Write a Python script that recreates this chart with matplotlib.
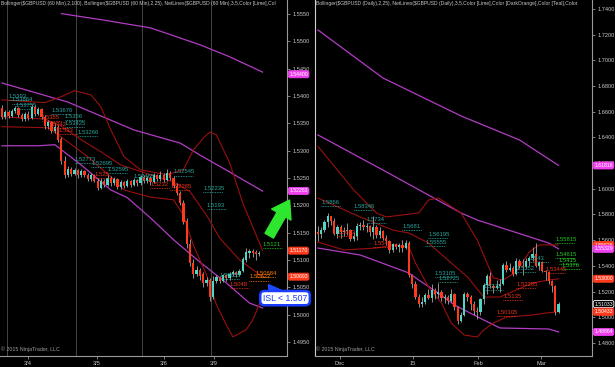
import matplotlib
matplotlib.use("Agg")
import matplotlib.pyplot as plt
import numpy as np

# ---------------- left panel: GBPUSD 60 min ----------------
l_open = [1.5378, 1.5362, 1.5370, 1.5364, 1.5372, 1.5378, 1.5366, 1.5358, 1.5368, 1.5360,
          1.5380, 1.5368, 1.5376, 1.5362, 1.5345, 1.5352, 1.5336, 1.5344, 1.5322, 1.5282,
          1.5256, 1.5266, 1.5258, 1.5264, 1.5255, 1.5262, 1.5256, 1.5248, 1.5256, 1.5245,
          1.5232, 1.5245, 1.5238, 1.5250, 1.5240, 1.5248, 1.5234, 1.5242, 1.5236, 1.5244,
          1.5237, 1.5246, 1.5240, 1.5252, 1.5244, 1.5250, 1.5242, 1.5255, 1.5248, 1.5256,
          1.5246, 1.5260, 1.5250, 1.5236, 1.5222, 1.5205, 1.5172, 1.5130, 1.5095, 1.5075,
          1.5082, 1.5074, 1.5058, 1.5064, 1.5032, 1.5062, 1.5068, 1.5062, 1.5072, 1.5066,
          1.5075, 1.5078, 1.5072, 1.5080, 1.5100, 1.5112, 1.5117, 1.5114, 1.5110]
l_close = [1.5362, 1.5370, 1.5364, 1.5372, 1.5378, 1.5366, 1.5358, 1.5368, 1.5360, 1.5380,
           1.5368, 1.5376, 1.5362, 1.5345, 1.5352, 1.5336, 1.5344, 1.5320, 1.5282, 1.5256,
           1.5266, 1.5258, 1.5264, 1.5255, 1.5262, 1.5256, 1.5248, 1.5256, 1.5245, 1.5232,
           1.5245, 1.5238, 1.5250, 1.5240, 1.5248, 1.5234, 1.5242, 1.5236, 1.5244, 1.5237,
           1.5246, 1.5240, 1.5252, 1.5244, 1.5250, 1.5242, 1.5255, 1.5248, 1.5256, 1.5246,
           1.5260, 1.5250, 1.5236, 1.5222, 1.5205, 1.5170, 1.5130, 1.5095, 1.5075, 1.5082,
           1.5070, 1.5058, 1.5064, 1.5032, 1.5062, 1.5068, 1.5062, 1.5072, 1.5066, 1.5075,
           1.5078, 1.5072, 1.5080, 1.5102, 1.5115, 1.5117, 1.5112, 1.5110, 1.5113]
l_high = [1.5384, 1.5374, 1.5375, 1.5377, 1.5382, 1.5380, 1.5369, 1.5371, 1.5372, 1.5386,
          1.5383, 1.5380, 1.5379, 1.5366, 1.5356, 1.5355, 1.5350, 1.5347, 1.5325, 1.5290,
          1.5272, 1.5270, 1.5268, 1.5267, 1.5266, 1.5264, 1.5260, 1.5259, 1.5258, 1.5250,
          1.5250, 1.5248, 1.5255, 1.5253, 1.5252, 1.5250, 1.5246, 1.5245, 1.5248, 1.5247,
          1.5250, 1.5249, 1.5256, 1.5255, 1.5254, 1.5253, 1.5260, 1.5258, 1.5262, 1.5259,
          1.5266, 1.5263, 1.5254, 1.5240, 1.5226, 1.5210, 1.5176, 1.5138, 1.5102, 1.5088,
          1.5086, 1.5078, 1.5068, 1.5066, 1.5070, 1.5072, 1.5070, 1.5075, 1.5074, 1.5078,
          1.5081, 1.5080, 1.5084, 1.5106, 1.5122, 1.5120, 1.5120, 1.5118, 1.5116]
l_low = [1.5358, 1.5358, 1.5360, 1.5362, 1.5369, 1.5362, 1.5354, 1.5355, 1.5356, 1.5358,
         1.5364, 1.5365, 1.5358, 1.5340, 1.5340, 1.5332, 1.5332, 1.5316, 1.5276, 1.5250,
         1.5252, 1.5254, 1.5255, 1.5250, 1.5252, 1.5252, 1.5244, 1.5245, 1.5242, 1.5228,
         1.5230, 1.5234, 1.5236, 1.5236, 1.5237, 1.5230, 1.5230, 1.5232, 1.5234, 1.5233,
         1.5235, 1.5236, 1.5238, 1.5240, 1.5240, 1.5238, 1.5240, 1.5244, 1.5245, 1.5242,
         1.5244, 1.5246, 1.5232, 1.5218, 1.5200, 1.5165, 1.5122, 1.5088, 1.5066, 1.5070,
         1.5064, 1.5050, 1.5052, 1.5025, 1.5028, 1.5058, 1.5058, 1.5060, 1.5062, 1.5064,
         1.5070, 1.5068, 1.5070, 1.5078, 1.5096, 1.5104, 1.5106, 1.5100, 1.5108]

# Bollinger (2,100) - magenta, read at a few bars
l_bb100_up_x = [18, 30, 45, 60, 69, 79]
l_bb100_up = [1.5551, 1.5540, 1.5525, 1.5494, 1.5472, 1.5444]
l_bb100_mid_x = [0, 20, 40, 54, 60, 69, 79]
l_bb100_mid = [1.5424, 1.5389, 1.5338, 1.5314, 1.5292, 1.5261, 1.5226]
l_bb100_lo_x = [0, 11, 16, 24, 33, 38, 45, 52, 60, 68, 75, 79]
l_bb100_lo = [1.5309, 1.5309, 1.5311, 1.5274, 1.5228, 1.5214, 1.5177, 1.5137, 1.5096, 1.5058, 1.5021, 1.5012]
# Bollinger (2,25) - dark red
l_bb25_up_x = [0, 13, 18, 22, 27, 30, 33, 37, 42, 50, 55, 58, 61, 63, 65, 69, 73, 77, 79]
l_bb25_up = [1.5393, 1.5388, 1.5399, 1.5410, 1.5402, 1.5380, 1.5338, 1.5289, 1.5265, 1.5256,
             1.5265, 1.5301, 1.5323, 1.5334, 1.5329, 1.5278, 1.5204, 1.5146, 1.5117]
l_bb25_mid_x = [0, 13, 18, 24, 30, 36, 45, 52, 57, 62, 66, 72, 79]
l_bb25_mid = [1.5362, 1.5358, 1.5345, 1.5320, 1.5298, 1.5274, 1.5256, 1.5243, 1.5225, 1.5182, 1.5140, 1.5100, 1.5069]
l_bb25_lo_x = [0, 14, 20, 26, 33, 37, 45, 52, 55, 58, 62, 65, 68, 70, 74, 76, 79]
l_bb25_lo = [1.5344, 1.5342, 1.5316, 1.5289, 1.5252, 1.5228, 1.5215, 1.5210, 1.5182, 1.5127,
             1.5073, 1.5018, 1.4981, 1.4959, 1.4972, 1.4990, 1.5032]

# NetLines labels: start bar, price, kind
l_nl_bar = [2, 3, 4, 15, 19, 19, 23, 22, 27, 32, 40, 52, 61, 62, 66,
            12, 14, 17, 28, 45, 51, 69, 75, 77, 79]
l_nl_price = [1.5393, 1.53864, 1.53755, 1.53676, 1.5356, 1.53425, 1.53266, 1.52773, 1.52695,
              1.52595, 1.52465, 1.52545, 1.52235, 1.5193, 1.50655,
              1.5355, 1.5342, 1.5330, 1.5250, 1.5232, 1.52285, 1.5048, 1.50622, 1.50684, 1.5121]
l_nl_kind = ['t'] * 15 + ['r'] * 7 + ['o', 'o', 'g']

l_mark_price = [1.54400, 1.52263, 1.51170, 1.50693]
l_mark_kind = ['m', 'm', 'r', 'r']

l_sessions = [1.5, 22.5, 42.5, 63.5]
l_tick_pos = [7.9, 28.8, 49.1, 64.2]
l_tick_lab = ['3/4', '3/5', '3/6', '3/9']
l_yticks = [1.4950, 1.5000, 1.5050, 1.5100, 1.5150, 1.5200, 1.5250, 1.5300, 1.5350,
            1.5400, 1.5450, 1.5500, 1.5550]

# ---------------- right panel: GBPUSD daily ----------------
r_open = [1.5660, 1.5650, 1.5680, 1.5740, 1.5790, 1.5750, 1.5650, 1.5700, 1.5660, 1.5670,
          1.5680, 1.5610, 1.5630, 1.5710, 1.5720, 1.5700, 1.5710, 1.5660, 1.5700, 1.5640,
          1.5670, 1.5620, 1.5590, 1.5520, 1.5570, 1.5545, 1.5560, 1.5540, 1.5580, 1.5330,
          1.5260, 1.5160, 1.5100, 1.5120, 1.5170, 1.5150, 1.5210, 1.5180, 1.5200, 1.5150,
          1.5160, 1.5130, 1.5180, 1.5080, 1.4970, 1.5020, 1.5180, 1.5160, 1.5100, 1.5050,
          1.5040, 1.5140, 1.5250, 1.5320, 1.5240, 1.5230, 1.5240, 1.5260, 1.5410, 1.5370,
          1.5380, 1.5340, 1.5440, 1.5400, 1.5390, 1.5440, 1.5460, 1.5490, 1.5400, 1.5430,
          1.5360, 1.5350, 1.5280, 1.5240, 1.5040]
r_close = [1.5650, 1.5680, 1.5740, 1.5790, 1.5750, 1.5650, 1.5700, 1.5660, 1.5670, 1.5680,
           1.5610, 1.5630, 1.5710, 1.5720, 1.5700, 1.5710, 1.5660, 1.5700, 1.5640, 1.5670,
           1.5620, 1.5590, 1.5520, 1.5570, 1.5545, 1.5560, 1.5540, 1.5580, 1.5330, 1.5260,
           1.5160, 1.5100, 1.5120, 1.5170, 1.5150, 1.5210, 1.5180, 1.5200, 1.5150, 1.5160,
           1.5130, 1.5180, 1.5080, 1.4970, 1.5020, 1.5180, 1.5160, 1.5100, 1.5050, 1.5040,
           1.5140, 1.5250, 1.5320, 1.5240, 1.5230, 1.5240, 1.5260, 1.5410, 1.5370, 1.5380,
           1.5340, 1.5440, 1.5400, 1.5390, 1.5440, 1.5460, 1.5490, 1.5400, 1.5430, 1.5360,
           1.5350, 1.5280, 1.5240, 1.5040, 1.5103]
r_high = [1.5710, 1.5700, 1.5760, 1.5810, 1.5790, 1.5770, 1.5720, 1.5720, 1.5700, 1.5730,
          1.5690, 1.5660, 1.5730, 1.5740, 1.5760, 1.5730, 1.5720, 1.5790, 1.5720, 1.5700,
          1.5680, 1.5640, 1.5600, 1.5580, 1.5580, 1.5580, 1.5600, 1.5600, 1.5590, 1.5340,
          1.5280, 1.5180, 1.5160, 1.5190, 1.5220, 1.5260, 1.5230, 1.5270, 1.5210, 1.5180,
          1.5170, 1.5220, 1.5190, 1.5090, 1.5040, 1.5200, 1.5200, 1.5170, 1.5130, 1.5080,
          1.5150, 1.5270, 1.5340, 1.5350, 1.5260, 1.5290, 1.5300, 1.5420, 1.5440, 1.5420,
          1.5400, 1.5460, 1.5450, 1.5450, 1.5460, 1.5480, 1.5550, 1.5582, 1.5440, 1.5440,
          1.5370, 1.5360, 1.5290, 1.5250, 1.5120]
r_low = [1.5590, 1.5620, 1.5660, 1.5700, 1.5720, 1.5640, 1.5620, 1.5620, 1.5630, 1.5640,
         1.5590, 1.5590, 1.5600, 1.5680, 1.5680, 1.5660, 1.5630, 1.5610, 1.5620, 1.5620,
         1.5600, 1.5560, 1.5500, 1.5510, 1.5530, 1.5510, 1.5510, 1.5530, 1.5310, 1.5230,
         1.5140, 1.5080, 1.5080, 1.5100, 1.5140, 1.5120, 1.5140, 1.5150, 1.5130, 1.5110,
         1.5100, 1.5120, 1.5060, 1.4950, 1.4960, 1.5010, 1.5130, 1.5060, 1.5020, 1.4990,
         1.5020, 1.5100, 1.5180, 1.5230, 1.5190, 1.5220, 1.5200, 1.5250, 1.5350, 1.5360,
         1.5320, 1.5330, 1.5380, 1.5330, 1.5380, 1.5400, 1.5440, 1.5390, 1.5370, 1.5350,
         1.5290, 1.5260, 1.5200, 1.5020, 1.5030]

r_bbm_up_x = [0, 20, 44, 62, 74]
r_bbm_up = [1.7236, 1.6862, 1.6567, 1.6380, 1.6182]
r_bbm_mid_x = [0, 20, 44, 49, 71, 74]
r_bbm_mid = [1.6419, 1.6146, 1.5812, 1.5757, 1.5578, 1.5533]
r_bbm_lo_x = [0, 13, 28, 31, 37, 42, 51, 56, 71, 74]
r_bbm_lo = [1.5539, 1.5485, 1.5345, 1.5290, 1.5189, 1.5096, 1.4979, 1.4917, 1.4909, 1.4886]
r_bb25_up_x = [0, 6, 11, 18, 21, 31, 34, 37, 38, 44, 49, 52, 54, 57, 61, 65, 68, 71, 74]
r_bb25_up = [1.6330, 1.6146, 1.5991, 1.5812, 1.5781, 1.5812, 1.5913, 1.5928, 1.5913, 1.5812,
             1.5602, 1.5423, 1.5306, 1.5290, 1.5353, 1.5508, 1.5563, 1.5563, 1.5563]
r_bb25_mid_x = [0, 13, 23, 28, 34, 41, 46, 51, 56, 61, 66, 71, 74]
r_bb25_mid = [1.5928, 1.5781, 1.5679, 1.5656, 1.5578, 1.5423, 1.5314, 1.5158, 1.5158, 1.5212,
              1.5267, 1.5290, 1.5300]
r_bb25_lo_x = [0, 8, 18, 23, 28, 30, 34, 38, 41, 45, 49, 51, 54, 58, 66, 70, 74]
r_bb25_lo = [1.5586, 1.5524, 1.5539, 1.5563, 1.5547, 1.5423, 1.5236, 1.5111, 1.4956, 1.4862,
             1.4847, 1.4901, 1.4956, 1.5002, 1.5018, 1.5033, 1.5043]

r_nl_bar = [1, 11, 15, 26, 34, 33, 36, 37, 51, 61, 65,
            6, 17, 70, 61, 57, 55,
            73, 73, 74, 75]
r_nl_price = [1.5866, 1.58346, 1.5734, 1.5681, 1.56195, 1.55555, 1.53105, 1.52725, 1.5212,
              1.5352, 1.5430,
              1.5633, 1.5547, 1.53445, 1.52285, 1.5135, 1.50105,
              1.55815, 1.54615, 1.5415, 1.5376]
r_nl_kind = ['t'] * 11 + ['r'] * 6 + ['g'] * 4

r_mark_price = [1.61816, 1.55626, 1.55329, 1.53000, 1.51033, 1.50433, 1.48864]
r_mark_kind = ['m', 'r', 'm', 'r', 'w', 'r', 'm']

r_tick_pos = [6.8, 29.2, 49.2, 68.6]
r_tick_lab = ['Dec', '15', 'Feb', 'Mar']
r_yticks = [1.48, 1.50, 1.52, 1.54, 1.56, 1.58, 1.60, 1.62, 1.64, 1.66, 1.68, 1.70, 1.72, 1.74]

l_header = (r'Bollinger(\$GBPUSD (60 Min),2,100), Bollinger(\$GBPUSD (60 Min),2,25), '
            r'NetLines(\$GBPUSD (60 Min),3,5,Color [Lime],Col')
r_header = (r'Bollinger(\$GBPUSD (Daily),2,25), NetLines(\$GBPUSD (Daily),3,5,Color [Lime],'
            r'Color [DarkOrange],Color [Teal],Color')

# ---------------- style ----------------
UP = '#4fd6c6'
DOWN = '#ff3a1c'
WICK = '#a8a8a8'
MAG = '#b23cc4'
DRED = '#9a1010'
TEAL = '#2aa59c'
RED = '#e8341c'
ORANGE = '#ff7a00'
LIME = '#22cc22'
GRID = '#505050'
TXT = '#c8c8c8'
nl_col = {'t': TEAL, 'r': RED, 'o': ORANGE, 'g': LIME}
mk_col = {'m': '#f040f0', 'r': '#ff3a1c', 'w': 'black'}

W, H = 615, 367
fig = plt.figure(figsize=(6.15, 3.67), dpi=100)
fig.patch.set_facecolor('black')

ax1 = fig.add_axes([0, 11 / H, 287 / W, 356 / H])
ax2 = fig.add_axes([315 / W, 11 / H, 277 / W, 356 / H])


def candles(ax, o, h, l, c):
    x = np.arange(len(o))
    o = np.array(o); h = np.array(h); l = np.array(l); c = np.array(c)
    ax.vlines(x, l, h, color=WICK, lw=0.6, zorder=3)
    col = np.where(c >= o, UP, DOWN)
    body = np.where(np.abs(c - o) < 1e-5, 1e-5 * np.sign(c - o + 1e-9), c - o)
    ax.bar(x, body, bottom=o, width=0.68, color=col, linewidth=0, zorder=4)


def netlines(ax, bars, prices, kinds, step):
    for b, p, k in zip(bars, prices, kinds):
        ax.plot([b, b + 6], [p, p], color=nl_col[k], lw=0.6, ls=(0, (1, 1)), zorder=5)
        ax.text(b, p + step, f'{p}', color=nl_col[k], fontsize=4.2, ha='left', va='bottom',
                family='Liberation Sans', zorder=5)


def markers(ax, prices, kinds):
    for p, k in zip(prices, kinds):
        fc = mk_col[k]
        ec = 'white' if k == 'w' else fc
        ax.text(1.008, p, f'{p:.5f}', transform=ax.get_yaxis_transform(), color='white',
                fontsize=3.7, va='center', ha='left', family='Liberation Sans', clip_on=False,
                zorder=10,
                bbox=dict(boxstyle='round,pad=0.2,rounding_size=0.35', fc=fc, ec=ec, lw=0.6))


def style(ax, xlim, ylim, yticks, fmt, tpos, tlab, header):
    ax.set_facecolor('black')
    ax.set_xlim(*xlim)
    ax.set_ylim(*ylim)
    ax.yaxis.tick_right()
    ax.set_yticks(yticks)
    ax.set_yticklabels([fmt % v for v in yticks])
    ax.set_xticks(tpos)
    ax.set_xticklabels(tlab)
    ax.tick_params(axis='both', colors='#909090', labelcolor=TXT, labelsize=4.1, length=2.5,
                   width=0.6, pad=1.2)
    for lab in ax.get_xticklabels() + ax.get_yticklabels():
        lab.set_family('Liberation Sans')
    for s in ['top', 'left']:
        ax.spines[s].set_visible(False)
    for s in ['right', 'bottom']:
        ax.spines[s].set_color('#9a9a9a')
        ax.spines[s].set_linewidth(0.8)
    ax.text(0.005, 0.012, '© 2015 NinjaTrader, LLC', transform=ax.transAxes, color='#a0a0a0',
            fontsize=3.8, family='Liberation Sans', va='bottom')
    ax.text(0.004, 0.997, header, transform=ax.transAxes, color=TXT, fontsize=3.65,
            va='top', ha='left', family='Liberation Sans', clip_on=True, zorder=12)


# ----- left -----
style(ax1, (-0.6, 86.4), (1.4924, 1.5576), l_yticks, '%.4f', l_tick_pos, l_tick_lab, l_header)
for s in l_sessions:
    ax1.axvline(s, color=GRID, lw=0.6, zorder=1)
ax1.plot(l_bb100_up_x, l_bb100_up, color=MAG, lw=0.9, zorder=2)
ax1.plot(l_bb100_mid_x, l_bb100_mid, color=MAG, lw=0.9, zorder=2)
ax1.plot(l_bb100_lo_x, l_bb100_lo, color=MAG, lw=0.9, zorder=2)
ax1.plot(l_bb25_up_x, l_bb25_up, color=DRED, lw=0.8, zorder=2)
ax1.plot(l_bb25_mid_x, l_bb25_mid, color=DRED, lw=0.8, zorder=2)
ax1.plot(l_bb25_lo_x, l_bb25_lo, color=DRED, lw=0.8, zorder=2)
candles(ax1, l_open, l_high, l_low, l_close)
netlines(ax1, l_nl_bar, l_nl_price, l_nl_kind, 0.0002)
markers(ax1, l_mark_price, l_mark_kind)

# green arrow and ISL call-out
ax1.annotate('', xy=(87.6, 1.5214), xytext=(80.6, 1.5140), annotation_clip=False,
             arrowprops=dict(arrowstyle='simple,head_width=1.6,head_length=1.2,tail_width=0.7',
                             fc='#2ee62e', ec='#2ee62e'), zorder=9)
ax1.annotate('', xy=(80.3, 1.5059), xytext=(83.2, 1.5034), annotation_clip=False,
             arrowprops=dict(arrowstyle='simple,head_width=1.2,head_length=1.0,tail_width=0.5',
                             fc='#1a4cff', ec='#1a4cff'), zorder=9)
ax1.text(85.8, 1.5030, 'ISL < 1.507', color='#1a3cff', fontsize=6.3, ha='center', va='center',
         family='Liberation Sans', clip_on=False, zorder=11,
         bbox=dict(boxstyle='round,pad=0.3,rounding_size=0.5', fc='white', ec='#1a3cff', lw=1.8))

# ----- right -----
style(ax2, (-0.9, 84.3), (1.4699, 1.7469), r_yticks, '%.4f', r_tick_pos, r_tick_lab, r_header)
ax2.spines['left'].set_visible(True)
ax2.spines['left'].set_color('#d0d0d0')
ax2.plot(r_bbm_up_x, r_bbm_up, color=MAG, lw=0.9, zorder=2)
ax2.plot(r_bbm_mid_x, r_bbm_mid, color=MAG, lw=0.9, zorder=2)
ax2.plot(r_bbm_lo_x, r_bbm_lo, color=MAG, lw=0.9, zorder=2)
ax2.plot(r_bb25_up_x, r_bb25_up, color=DRED, lw=0.8, zorder=2)
ax2.plot(r_bb25_mid_x, r_bb25_mid, color=DRED, lw=0.8, zorder=2)
ax2.plot(r_bb25_lo_x, r_bb25_lo, color=DRED, lw=0.8, zorder=2)
candles(ax2, r_open, r_high, r_low, r_close)
netlines(ax2, r_nl_bar, r_nl_price, r_nl_kind, 0.0008)
markers(ax2, r_mark_price, r_mark_kind)

fig.savefig('out.png', dpi=100, facecolor='black')
